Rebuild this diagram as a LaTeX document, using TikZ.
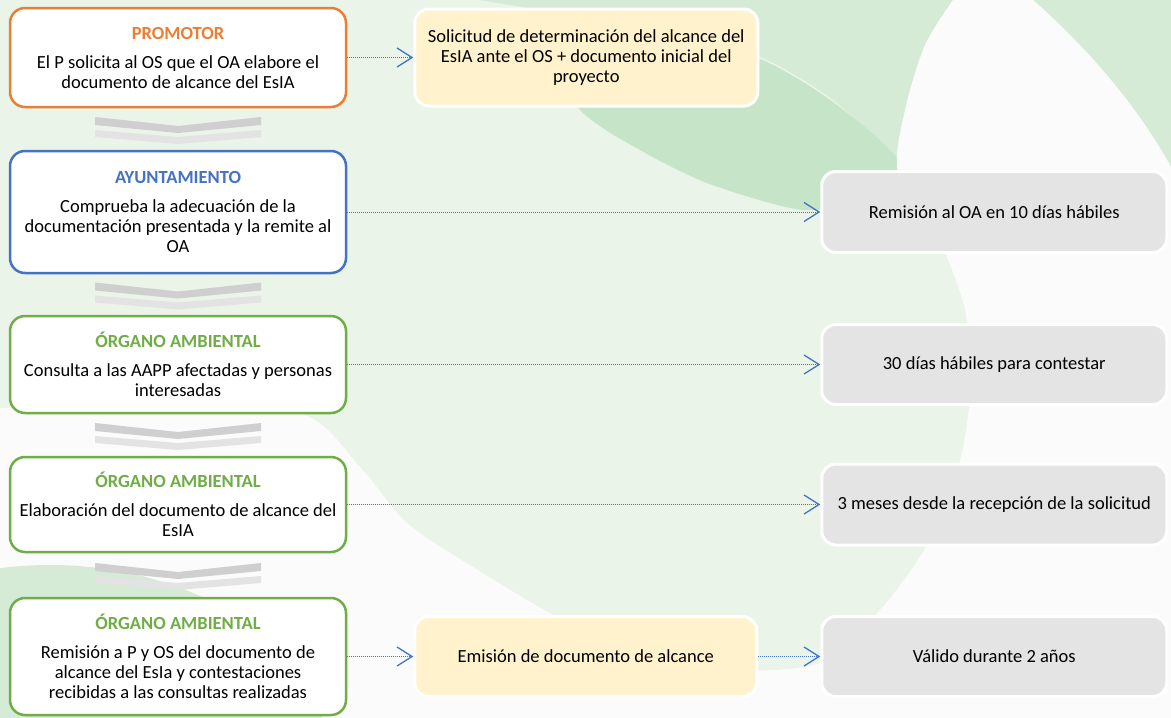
\documentclass[tikz,border=0pt]{standalone}
\usepackage{fontspec}
\setmainfont{Carlito}
\usetikzlibrary{positioning,calc}
\usetikzlibrary {arrows.meta}

\definecolor{promo}{HTML}{ED7D31}
\definecolor{ayto}{HTML}{4472C4}
\definecolor{organo}{HTML}{70AD47}
\definecolor{bglight}{HTML}{EAF4E8}
\definecolor{bgmid}{HTML}{D5EBD6}
\definecolor{bgdark}{HTML}{C6E5C8}
\definecolor{bgwhite}{HTML}{FBFBFB}
\definecolor{yelbox}{HTML}{FFF2CC}
\definecolor{grybox}{HTML}{E4E4E4}
\definecolor{chevA}{HTML}{CFCFCF}
\definecolor{chevB}{HTML}{E3E3E3}

\begin{document}
\begin{tikzpicture}[x=1pt,y=-1pt,
  paso/.style={draw=#1,line width=2.5pt,fill=white,rounded corners=15pt,minimum width=336pt,align=center,font=\txtfont,inner sep=0pt},
  plazo/.style={draw=white,line width=3pt,fill=#1,rounded corners=14pt,align=center,font=\txtfont,inner sep=0pt},
  flecha/.style={draw=ayto,line width=1pt,dash pattern=on 1pt off 1pt,-{Straight Barb[length=15pt,width=19pt,line width=1.3pt]}},
  chev/.pic={
    \fill[chevA] (-83,-12) -- (0,-3) -- (83,-12) -- (83,-4) -- (0,4) -- (-83,-4) -- cycle;
    \fill[chevB] (-83,1) -- (0,8) -- (83,1) -- (83,8) -- (0,15) -- (-83,8) -- cycle;
  }]

\def\txtfont{\fontsize{18.5}{20}\selectfont}

\useasboundingbox (0,0) rectangle (1171,718);

% background
\fill[bglight] (0,0) rectangle (1171,718);
\fill[bgmid] (480,0) -- plot[smooth] coordinates {(480,0) (600,20) (700,38) (767,60) (833,100) (900,162)} -- (1171,170) -- (1171,0) -- cycle;
\fill[bgdark] plot[smooth cycle] coordinates {(520,30) (620,26) (700,40) (767,62) (833,102) (898,160) (875,190) (830,208) (790,208) (707,183) (640,150) (580,110)};
\fill[bgwhite] (0,718) -- (0,408) -- plot[smooth] coordinates {(0,408) (150,402) (300,413) (360,467) (407,523) (473,567) (557,617) (640,655) (723,670) (820,663) (880,610) (930,540) (960,460) (970,390) (965,310) (935,230) (898,172) (905,110) (925,45) (953,0)} -- (1033,0) .. controls (1090,50) and (1140,110) .. (1171,167) -- (1171,718) -- cycle;
\fill[bgmid] (50,765) ellipse [x radius=280, y radius=200];

% pasos
\node[paso=promo,minimum height=99pt] (L1) at (178,57.5)
  {\textbf{\textcolor{promo}{PROMOTOR}}\\[9pt]El P solicita al OS que el OA elabore el\\documento de alcance del EsIA};
\node[paso=ayto,minimum height=122pt,below=41.5pt of L1] (L2)
  {\textbf{\textcolor{ayto}{AYUNTAMIENTO}}\\[9pt]Comprueba la adecuación de la\\documentación presentada y la remite al\\OA};
\node[paso=organo,minimum height=97pt,below=40.5pt of L2] (L3)
  {\textbf{\textcolor{organo}{ÓRGANO AMBIENTAL}}\\[9pt]Consulta a las AAPP afectadas y personas\\interesadas};
\node[paso=organo,minimum height=95pt,below=41.5pt of L3] (L4)
  {\textbf{\textcolor{organo}{ÓRGANO AMBIENTAL}}\\[9pt]Elaboración del documento de alcance del\\EsIA};
\node[paso=organo,minimum height=117pt,below=43.5pt of L4] (L5)
  {\textbf{\textcolor{organo}{ÓRGANO AMBIENTAL}}\\[9pt]Remisión a P y OS del documento de\\alcance del EsIa y contestaciones\\recibidas a las consultas realizadas};

\foreach \a/\b in {L1/L2,L2/L3,L3/L4,L4/L5}
  \path ($(\a.south)!0.5!(\b.north)$) pic{chev};

% plazos
\node[plazo=yelbox,minimum width=343pt,minimum height=97pt,right=66pt of L1] (R1)
  {Solicitud de determinación del alcance del\\EsIA ante el OS + documento inicial del\\proyecto};
\node[plazo=grybox,minimum width=345pt,minimum height=81pt,right=473pt of L2] (G1) {Remisión al OA en 10 días hábiles};
\node[plazo=grybox,minimum width=345pt,minimum height=80pt,right=473pt of L3] (G2) {30 días hábiles para contestar};
\node[plazo=grybox,minimum width=345pt,minimum height=81pt,right=473pt of L4] (G3) {3 meses desde la recepción de la solicitud};
\node[plazo=yelbox,minimum width=342pt,minimum height=80pt,right=66pt of L5] (Y2) {Emisión de documento de alcance};
\node[plazo=grybox,minimum width=345pt,minimum height=80pt,right=62pt of Y2] (G4) {Válido durante 2 años};

\draw[flecha] (L1) -- (R1);
\draw[flecha] (L2) -- (G1);
\draw[flecha] (L3) -- (G2);
\draw[flecha] (L4) -- (G3);
\draw[flecha] (L5) -- (Y2);
\draw[flecha] (Y2) -- (G4);
\end{tikzpicture}
\end{document}
